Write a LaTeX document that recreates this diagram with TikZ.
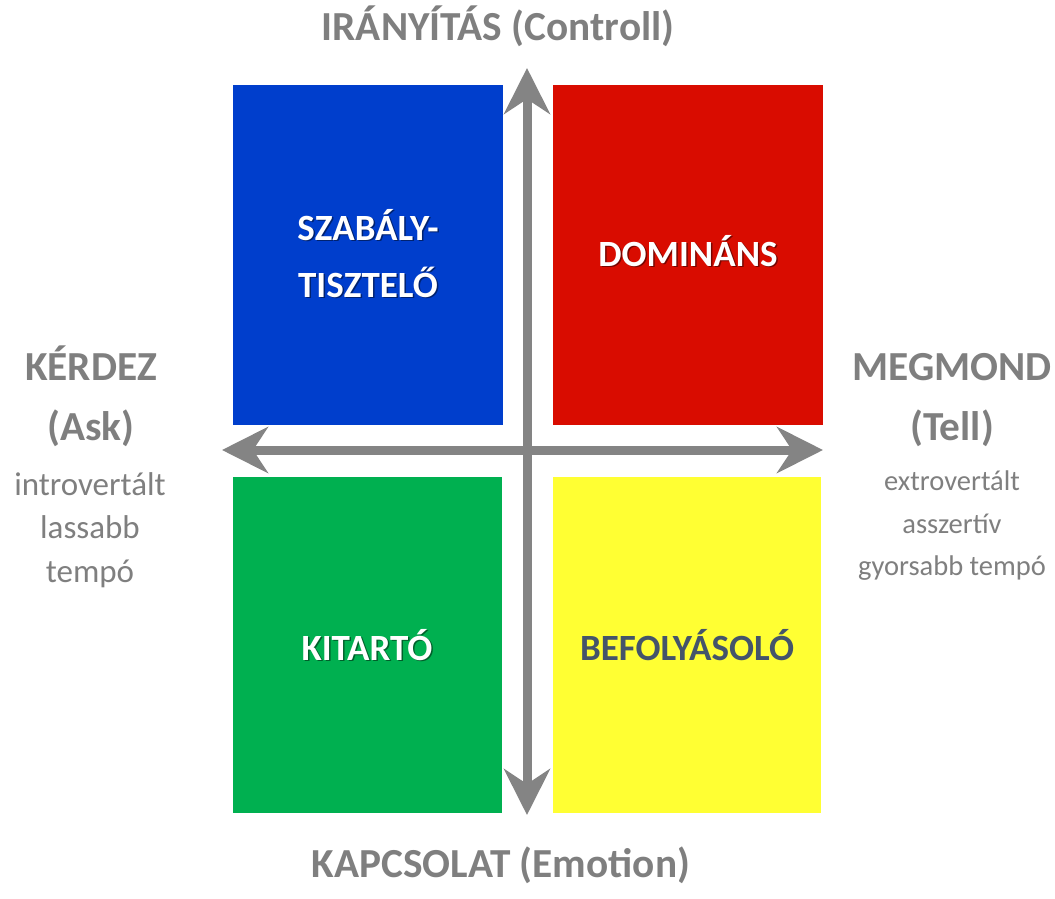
\documentclass[tikz,border=0pt]{standalone}
\usepackage{fontspec}
\setmainfont{Carlito}
\usetikzlibrary{arrows.meta}
\definecolor{quadblue}{RGB}{0,62,204}
\definecolor{quadred}{RGB}{217,12,0}
\definecolor{quadgreen}{RGB}{0,176,80}
\definecolor{quadyellow}{RGB}{255,255,51}
\definecolor{axisgray}{RGB}{132,132,132}
\definecolor{labelgray}{RGB}{127,127,127}
\definecolor{slate}{RGB}{68,84,106}
\tikzset{
  quad/.style={inner sep=0pt, minimum width=270pt, minimum height=340pt},
  qtext/.style={anchor=base, inner sep=0pt, font=\fontsize{37}{40}\selectfont\bfseries},
  axistext/.style={anchor=base, inner sep=0pt, text=labelgray, font=\fontsize{41.3}{44}\selectfont\bfseries},
  sidetext/.style={anchor=base, inner sep=0pt, text=labelgray, font=\fontsize{33}{36}\selectfont},
  axis/.style={draw=axisgray, line width=9pt, >={Stealth[length=46pt,width=46pt,inset=15pt]}, <->},
}
% white label with a soft drop shadow
\newcommand{\quadlabel}[3]{%
  \node[qtext, text=black, opacity=0.45, xshift=1.5pt, yshift=-1.5pt] at (#2) {#3};
  \node[qtext, text=white] (#1) at (#2) {#3};}
\begin{document}
\begin{tikzpicture}[x=1pt,y=-1pt]
  \useasboundingbox (0,0) rectangle (1055,898);
  % quadrants
  \node[quad, fill=quadblue] (blue) at (368,255) {};
  \node[quad, fill=quadred] (red) at (688,255) {};
  \node[quad, fill=quadgreen, minimum width=269pt, minimum height=336pt] (green) at (367.5,645) {};
  \node[quad, fill=quadyellow, minimum width=268pt, minimum height=336pt] (yellow) at (687,645) {};
  \quadlabel{szab1}{368,240}{SZABÁLY-}
  \quadlabel{szab2}{368,297}{TISZTELŐ}
  \quadlabel{dom}{688,266}{DOMINÁNS}
  \quadlabel{kit}{367,660}{KITARTÓ}
  \node[qtext, text=slate] (bef) at (687,660) {BEFOLYÁSOLÓ};
  % axes
  \coordinate (top) at (527,68);
  \coordinate (bottom) at (527,815);
  \coordinate (left) at (222,450);
  \coordinate (right) at (823,450);
  \draw[axis] (bottom) -- (top);
  \draw[axis] (left) -- (right);
  % axis labels
  \node[axistext] (ctrl) at (498,40) {IRÁNYÍTÁS (Controll)};
  \node[axistext] (emo) at (501,877) {KAPCSOLAT (Emotion)};
  \node[axistext] (ask1) at (91,380) {KÉRDEZ};
  \node[axistext] (ask2) at (91,440) {(Ask)};
  \node[sidetext] (ask3) at (90,495) {introvertált};
  \node[sidetext] (ask4) at (90,538) {lassabb};
  \node[sidetext] (ask5) at (90,582) {tempó};
  \node[axistext] (tell1) at (952,380) {MEGMOND};
  \node[axistext] (tell2) at (952,440) {(Tell)};
  \node[sidetext, font=\fontsize{28.5}{32}\selectfont] (tell3) at (952,490) {extrovertált};
  \node[sidetext, font=\fontsize{28.5}{32}\selectfont] (tell4) at (952,533) {asszertív};
  \node[sidetext, font=\fontsize{28.5}{32}\selectfont] (tell5) at (952,575) {gyorsabb tempó};
\end{tikzpicture}
\end{document}
